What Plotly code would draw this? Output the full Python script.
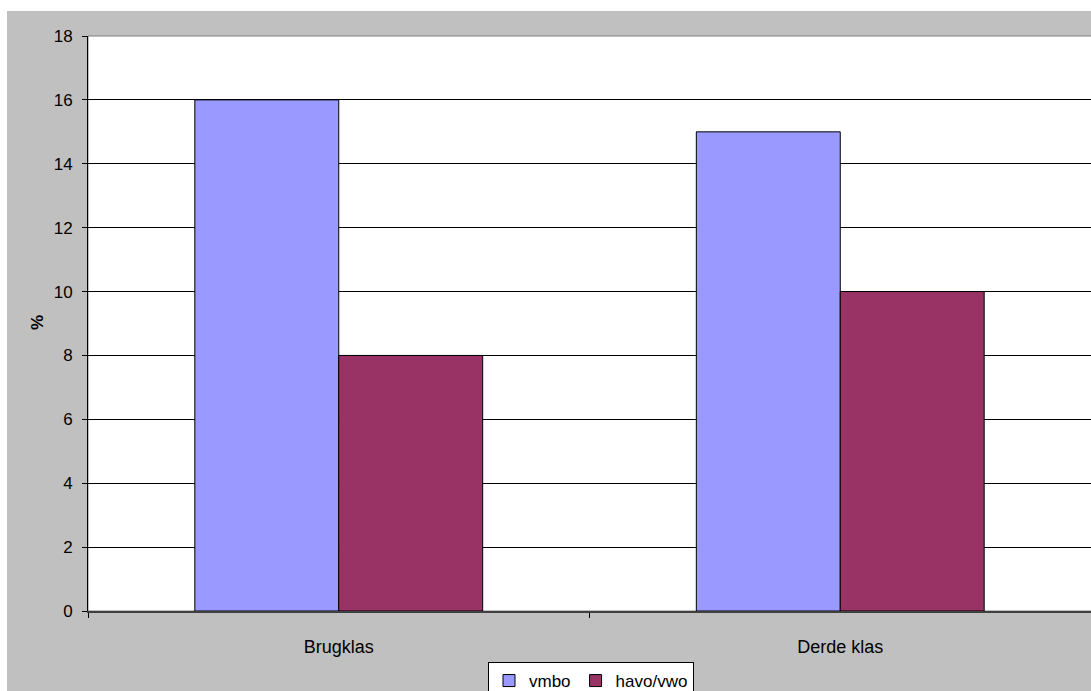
import plotly.graph_objects as go

categories = ["Brugklas", "Derde klas"]
vmbo = [16, 15]
havo_vwo = [8, 10]
y_ticks = list(range(0, 19, 2))

W, H = 1091, 691
ML, MR, MT, MB = 88, 0, 36, 80
pw = W - ML - MR
ph = H - MT - MB

def px_x(x):
    return (x - ML) / pw

def px_y(y):
    return (H - MB - y) / ph

fig = go.Figure()
fig.add_trace(go.Bar(name="vmbo", x=categories, y=vmbo,
                     marker=dict(color="#9999FF", line=dict(color="#000000", width=1))))
fig.add_trace(go.Bar(name="havo/vwo", x=categories, y=havo_vwo,
                     marker=dict(color="#993366", line=dict(color="#000000", width=1))))

font = "Liberation Sans, Arial, sans-serif"

fig.update_layout(
    width=W, height=H,
    margin=dict(l=ML, r=MR, t=MT, b=MB, pad=0, autoexpand=False),
    paper_bgcolor="#FFFFFF",
    plot_bgcolor="rgba(0,0,0,0)",
    barmode="group",
    bargap=0.426,
    bargroupgap=0,
    showlegend=True,
    font=dict(family=font, size=17, color="#000000"),
    legend=dict(
        orientation="h",
        x=px_x(591), xanchor="center",
        y=px_y(662), yanchor="top",
        bgcolor="#FFFFFF", bordercolor="#000000", borderwidth=1,
        font=dict(family=font, size=17, color="#000000"),
        itemwidth=30, tracegroupgap=0,
    ),
    shapes=[
        # grey chart area
        dict(type="rect", xref="paper", yref="paper",
             x0=px_x(7), x1=px_x(1100), y0=px_y(700), y1=px_y(11),
             fillcolor="#C0C0C0", line=dict(width=0), layer="below"),
        # white plot area with grey border
        dict(type="rect", xref="paper", yref="paper",
             x0=0, x1=1.002, y0=0, y1=1,
             fillcolor="#FFFFFF", line=dict(color="#808080", width=1), layer="below"),
    ],
    annotations=[
        dict(text="<b>%</b>", xref="paper", yref="paper",
             x=px_x(37), y=px_y(323), xanchor="center", yanchor="middle",
             showarrow=False, textangle=-90,
             font=dict(family=font, size=17, color="#000000")),
    ],
)

fig.update_xaxes(
    type="category",
    range=[-0.5, 1.5],
    showline=True, linecolor="#404040", linewidth=2,
    ticks="outside", tickson="boundaries", ticklen=5, tickcolor="#000000",
    showgrid=False, zeroline=False,
    tickfont=dict(family=font, size=18, color="#000000"),
    ticklabelstandoff=18,
)
fig.update_yaxes(
    range=[0, 18],
    tickvals=y_ticks,
    showline=True, linecolor="#000000", linewidth=1,
    ticks="outside", ticklen=5, tickcolor="#000000",
    showgrid=True, gridcolor="#000000", gridwidth=1,
    zeroline=False,
    tickfont=dict(family=font, size=17, color="#000000"),
    ticklabelstandoff=6,
)

fig.write_html("out.html")
